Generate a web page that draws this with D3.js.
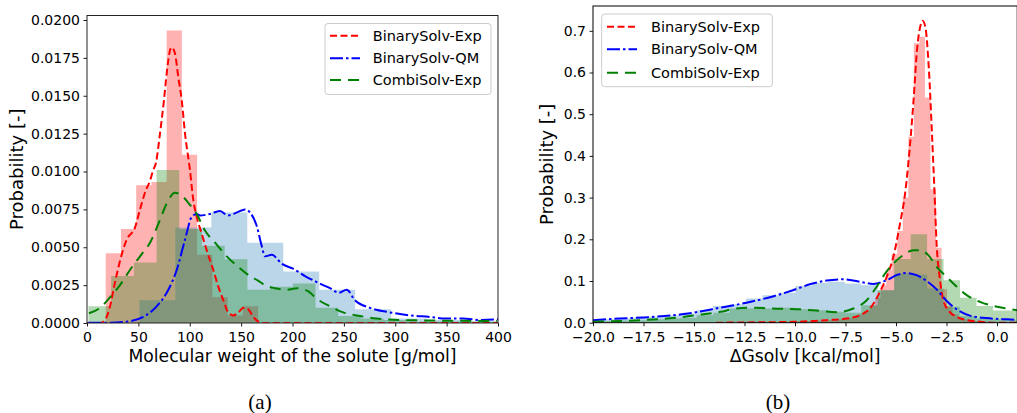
<!DOCTYPE html>
<html lang="en">
<head>
<meta charset="utf-8">
<title>solute distributions</title>
<script src="https://d3js.org/d3.v7.min.js"></script>
<style>
body{margin:0;background:#fff;}
svg{display:block;font-family:"DejaVu Sans",sans-serif;}
</style>
</head>
<body>
<div id="chart"></div>
<script>
// series names used in both legends
var seriesNames = ["BinarySolv-Exp", "BinarySolv-QM", "CombiSolv-Exp"];

// ---- (a) molecular weight of the solute ----
var mwTicksX = [0, 50, 100, 150, 200, 250, 300, 350, 400];
var mwTicksY = [0, 0.0025, 0.005, 0.0075, 0.01, 0.0125, 0.015, 0.0175, 0.02];

// histogram bins: first edge, bin width, densities
var mwRedBins = {start: 18.2, width: 14.83};
var mwRedHist = [0.0046, 0.0062, 0.0091, 0.0093, 0.0193, 0.0111, 0.0045, 0.0017, 0.0005, 0.0011];
var mwBlueBins = {start: 51, width: 35};
var mwBlueHist = [0.0015, 0.0063, 0.0073, 0.0053, 0.0034, 0.0022, 0.0009, 0.0003, 0.0002, 0.0001];
var mwGreenBins = {start: 1.4, width: 22.1};
var mwGreenHist = [0.0011, 0.0031, 0.0040, 0.0101, 0.0062, 0.0051, 0.0042, 0.0022, 0.0024, 0.0026,
                   0.0010, 0.00046, 0.0003, 0.0002, 0.0001, 0.0001, 0.0001, 0.0001];

// kde curves [x, density]
var mwRedKde = [[0,0],[12.7,0],[17.5,0.0002],[22.4,0.0011],[27.3,0.0027],[32.1,0.0041],[38.6,0.0055],
  [46.7,0.0063],[51.6,0.0075],[56.4,0.0086],[61.3,0.0094],[64.5,0.0101],[67.2,0.0106],[71.0,0.0125],
  [74.9,0.0147],[77.6,0.0165],[80.8,0.0180],[82.4,0.0182],[85.6,0.0178],[88.9,0.0162],[92.2,0.0147],
  [95.4,0.0125],[100.2,0.0101],[103.5,0.0081],[106.8,0.0070],[111.6,0.0059],[116.5,0.0048],[122.9,0.0035],
  [127.8,0.0024],[132.7,0.0015],[137.5,0.0007],[142.4,0.0005],[147.3,0.0007],[152.1,0.0010],[157.0,0.0009],
  [161.8,0.0004],[166.7,0.0001],[173,0],[400,0]];
var mwBlueKde = [[1.3,0.00002],[22.4,0.00002],[40.2,0.0001],[54.8,0.0004],[67.8,0.0011],[77.6,0.0020],
  [87.3,0.0035],[95.4,0.0055],[101.9,0.0070],[106.8,0.0072],[110.0,0.0071],[119.7,0.0072],[129.4,0.0074],
  [137.2,0.0071],[146.0,0.0073],[153.8,0.0075],[158.6,0.0073],[165.2,0.0064],[170.0,0.0051],[173.2,0.0044],
  [179.8,0.0045],[189.8,0.0039],[200,0.0036],[212.2,0.0031],[226.8,0.0026],[236.5,0.0023],[245.3,0.0020],
  [252.7,0.0022],[260.8,0.0015],[275.4,0.0010],[294.9,0.0007],[314.4,0.0005],[333.8,0.0004],[348.4,0.0003],
  [365.9,0.0003],[382.5,0.0002],[400,0.00024]];
var mwGreenKde = [[1.9,0.00064],[12.7,0.0010],[22.4,0.0017],[32.1,0.0025],[41.8,0.0035],[51.6,0.0044],
  [61.3,0.0053],[71.0,0.0068],[77.6,0.0079],[85.6,0.0086],[92.2,0.0084],[100.2,0.0078],[106.8,0.0072],
  [114.8,0.0061],[124.6,0.0053],[136.0,0.0044],[147.3,0.0037],[158.6,0.0031],[166.4,0.0028],[173.2,0.0025],
  [183.0,0.0023],[194.6,0.0022],[204.4,0.0023],[215.1,0.0021],[223.6,0.0016],[236.5,0.0011],[249.4,0.0007],
  [262.5,0.0005],[281.9,0.0003],[304.6,0.0002],[353.3,0.00015],[399,0.00013]];

// ---- (b) solvation free energy ----
var dgTicksX = [-20, -17.5, -15, -12.5, -10, -7.5, -5, -2.5, 0];
var dgTicksY = [0, 0.1, 0.2, 0.3, 0.4, 0.5, 0.6, 0.7];

var dgRedBins = {start: -13.98, width: 0.274};
var dgRedHist = [0, 0, 0.002, 0, 0, 0.002, 0, 0.002, 0, 0.002, 0.002, 0, 0.004, 0.002, 0.002, 0.004, 0.002,
  0.004, 0.006, 0.004, 0.006, 0.006, 0.008, 0.010, 0.012, 0.016, 0.020, 0.028, 0.040, 0.060, 0.090, 0.125,
  0.165, 0.220, 0.300, 0.446, 0.670, 0.686, 0.540, 0.320, 0.180, 0.080, 0.040, 0.020, 0.012, 0.008, 0.004,
  0.004, 0.002, 0.002];
var dgBins = {start: -20.575, width: 0.815};
var dgBlueHist = [0.007, 0.008, 0.010, 0.012, 0.014, 0.018, 0.022, 0.030, 0.040, 0.044, 0.058, 0.066, 0.072,
  0.088, 0.096, 0.098, 0.094, 0.090, 0.078, 0.118, 0.115, 0.082, 0.038, 0.016, 0.010, 0.008, 0.006];
var dgGreenHist = [0.004, 0.004, 0.005, 0.006, 0.008, 0.010, 0.012, 0.018, 0.024, 0.034, 0.034, 0.034, 0.036,
  0.032, 0.030, 0.026, 0.024, 0.042, 0.078, 0.153, 0.212, 0.153, 0.102, 0.060, 0.040, 0.029, 0.029];

var dgRedKde = [[-13.9,0],[-11.73,0.001],[-10.08,0.002],[-8.43,0.006],[-7.44,0.010],[-6.78,0.018],
  [-6.29,0.034],[-5.88,0.066],[-5.46,0.110],[-5.13,0.158],[-4.80,0.238],[-4.55,0.31],[-4.30,0.43],
  [-4.13,0.534],[-3.96,0.654],[-3.80,0.71],[-3.68,0.724],[-3.55,0.71],[-3.38,0.614],[-3.22,0.454],
  [-3.10,0.32],[-2.99,0.19],[-2.82,0.102],[-2.66,0.054],[-2.41,0.030],[-1.99,0.014],[-1.50,0.0065],
  [-0.84,0.0024],[-0.18,0],[1,0]];
var dgBlueKde = [[-20,0.006],[-18.7,0.010],[-17.0,0.014],[-15.3,0.022],[-13.7,0.036],[-12.4,0.048],
  [-11.1,0.063],[-10.1,0.078],[-9.26,0.092],[-8.43,0.101],[-7.61,0.104],[-6.78,0.098],[-6.12,0.093],
  [-5.46,0.102],[-4.97,0.114],[-4.47,0.119],[-3.98,0.114],[-3.48,0.100],[-2.99,0.080],[-2.49,0.052],
  [-1.99,0.032],[-1.34,0.017],[-0.51,0.011],[0.48,0.008],[1.0,0.007]];
var dgGreenKde = [[-20,0.0024],[-18.66,0.004],[-17.5,0.0065],[-16.2,0.0105],[-14.9,0.018],[-13.7,0.026],
  [-12.9,0.034],[-12.1,0.036],[-11.1,0.034],[-9.75,0.032],[-8.93,0.029],[-7.94,0.025],[-7.11,0.034],
  [-6.45,0.054],[-5.96,0.086],[-5.54,0.118],[-5.13,0.142],[-4.64,0.162],[-4.14,0.174],[-3.81,0.174],
  [-3.40,0.162],[-2.99,0.134],[-2.49,0.110],[-1.99,0.086],[-1.50,0.066],[-0.84,0.050],[-0.18,0.040],
  [0.48,0.034],[1.0,0.030]];

// ---- drawing ----
var svg = d3.select("#chart").append("svg").attr("width", 1017).attr("height", 413);

var colors = ["#ff0000", "#0000ff", "#008000"];
var histColors = ["#ff0000", "#1f77b4", "#008000"];
var dashes = ["7,3.5", "13,3,2.5,3", "11,7"];

function histPath(x, y, bins, heights) {
  var pts = heights.map(function(h, i) { return [bins.start + i * bins.width, h]; });
  pts.push([bins.start + heights.length * bins.width, heights[heights.length - 1]]);
  return d3.area().curve(d3.curveStepAfter)
    .x(function(d) { return x(d[0]); })
    .y0(y(0)).y1(function(d) { return y(d[1]); })(pts);
}

function drawPanel(p) {
  var g = svg.append("g");
  var x = d3.scaleLinear().domain(p.xDomain).range([p.x0, p.x1]);
  var y = d3.scaleLinear().domain(p.yDomain).range(p.yRange);

  g.append("clipPath").attr("id", p.id).append("rect")
    .attr("x", p.x0).attr("y", p.y0).attr("width", p.x1 - p.x0).attr("height", p.y1 - p.y0);
  var plot = g.append("g").attr("clip-path", "url(#" + p.id + ")");

  p.hists.forEach(function(h, i) {
    plot.append("path").attr("d", histPath(x, y, h.bins, h.values))
      .attr("fill", histColors[i]).attr("fill-opacity", 0.3).attr("stroke", "none");
  });

  var line = d3.line().curve(d3.curveMonotoneX)
    .x(function(d) { return x(d[0]); }).y(function(d) { return y(d[1]); });
  p.kdes.forEach(function(k, i) {
    plot.append("path").attr("d", line(k)).attr("fill", "none")
      .attr("stroke", colors[i]).attr("stroke-width", 2).attr("stroke-dasharray", dashes[i]);
  });

  // axes
  var xa = g.append("g").attr("transform", "translate(0," + p.y1 + ")")
    .call(d3.axisBottom(x).tickValues(p.xTicks).tickFormat(p.xFmt).tickSize(3.5).tickPadding(6).tickSizeOuter(0));
  var ya = g.append("g").attr("transform", "translate(" + p.x0 + ",0)")
    .call(d3.axisLeft(y).tickValues(p.yTicks).tickFormat(p.yFmt).tickSize(3.5).tickPadding(3.5).tickSizeOuter(0));
  [xa, ya].forEach(function(a) {
    a.select(".domain").remove();
    a.attr("font-size", 14).attr("font-family", "DejaVu Sans");
    a.selectAll(".tick text").attr("fill", "#000");
    a.selectAll(".tick line").attr("stroke", "#000").attr("stroke-width", 0.9);
  });

  g.append("rect").attr("x", p.x0).attr("y", p.y0)
    .attr("width", p.x1 - p.x0).attr("height", p.y1 - p.y0)
    .attr("fill", "none").attr("stroke", p.frame).attr("stroke-width", 1);

  g.append("text").attr("x", (p.x0 + p.x1) / 2).attr("y", 362)
    .attr("text-anchor", "middle").attr("font-size", 17.2).text(p.xLabel);
  g.append("text").attr("transform", "translate(" + p.yLabelX + "," + ((p.y0 + p.y1) / 2) + ") rotate(-90)")
    .attr("text-anchor", "middle").attr("dy", "0.35em").attr("font-size", 18).text("Probability [-]");

  // legend
  var L = p.legend;
  var lg = g.append("g");
  lg.append("rect").attr("x", L.x).attr("y", L.y).attr("width", L.w).attr("height", L.h)
    .attr("rx", 3).attr("fill", "#fff").attr("fill-opacity", 0.8).attr("stroke", "#cccccc");
  seriesNames.forEach(function(name, i) {
    var cy = L.rows[i];
    lg.append("line").attr("x1", L.lx).attr("x2", L.lx + 30).attr("y1", cy).attr("y2", cy)
      .attr("stroke", colors[i]).attr("stroke-width", 2).attr("stroke-dasharray", dashes[i]);
    lg.append("text").attr("x", L.tx).attr("y", cy).attr("dy", "0.35em")
      .attr("font-size", 14.5).text(name);
  });

  g.append("text").attr("x", p.capX).attr("y", 409).attr("text-anchor", "middle")
    .attr("font-family", "Liberation Serif, serif").attr("font-size", 21).text(p.caption);
}

drawPanel({
  id: "clipA", x0: 87, x1: 498, y0: 15.5, y1: 323,
  xDomain: [0, 400], yDomain: [0, 0.02], yRange: [323, 20],
  xTicks: mwTicksX, yTicks: mwTicksY, xFmt: d3.format("d"), yFmt: d3.format(".4f"),
  hists: [{bins: mwRedBins, values: mwRedHist}, {bins: mwBlueBins, values: mwBlueHist},
          {bins: mwGreenBins, values: mwGreenHist}],
  kdes: [mwRedKde, mwBlueKde, mwGreenKde],
  frame: "#222",
  xLabel: "Molecular weight of the solute [g/mol]", yLabelX: 16.5,
  legend: {x: 325, y: 23.5, w: 166, h: 71, lx: 330, tx: 372.7, rows: [35.7, 58.3, 80]},
  capX: 260, caption: "(a)"
});

drawPanel({
  id: "clipB", x0: 593, x1: 1017.2, y0: 6, y1: 322.7,
  xDomain: [-20, 1], yDomain: [0, 0.7], yRange: [322.7, 30.8],
  xTicks: dgTicksX, yTicks: dgTicksY, xFmt: d3.format(".1f"), yFmt: d3.format(".1f"),
  hists: [{bins: dgRedBins, values: dgRedHist}, {bins: dgBins, values: dgBlueHist},
          {bins: dgBins, values: dgGreenHist}],
  kdes: [dgRedKde, dgBlueKde, dgGreenKde],
  frame: "#000",
  xLabel: "\u0394Gsolv [kcal/mol]", yLabelX: 546.7,
  legend: {x: 601.7, y: 14, w: 170.6, h: 72.7, lx: 607, tx: 651, rows: [26.7, 49.3, 72.7]},
  capX: 778, caption: "(b)"
});
</script>
</body>
</html>
